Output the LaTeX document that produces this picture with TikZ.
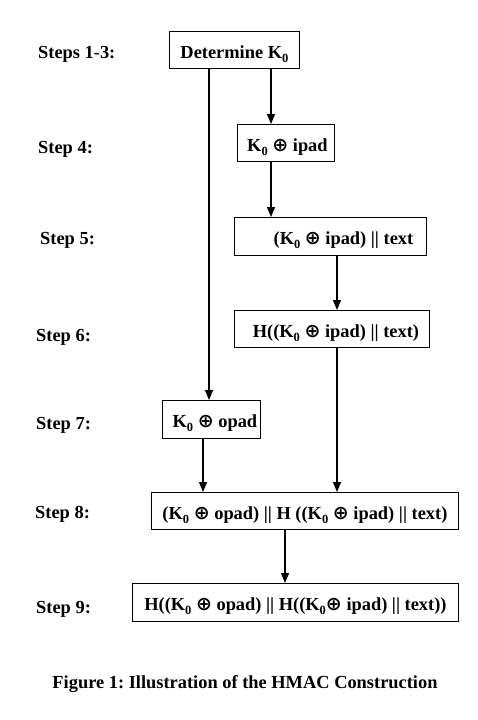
\documentclass[tikz,border=0pt]{standalone}
\usepackage{fontspec}
\setmainfont{Liberation Serif}
\newfontfamily\dvsans{DejaVu Sans}
\usetikzlibrary{arrows.meta}
\frenchspacing
\newcommand{\kz}{K\raisebox{-4pt}{\fontsize{12.5}{12.5}\selectfont 0}}
\newcommand{\xo}{{\dvsans\bfseries\fontsize{19}{19}\selectfont ⊕}}
\begin{document}
\begin{tikzpicture}[x=1pt,y=-1pt,
  every node/.style={font=\fontsize{18.4}{22}\selectfont\bfseries},
  box/.style={draw,line width=0.9pt,inner sep=0pt,anchor=north west,text height=17pt,text depth=0pt},
  steplbl/.style={anchor=base west,inner sep=0pt},
  arr/.style={line width=1.2pt,-{Triangle[length=10pt,width=8pt]}}]
\useasboundingbox (0,0) rectangle (477,720);
\fill[white] (0,0) rectangle (477,720);
% boxes
\node[box,minimum width=130pt,minimum height=37pt] (b13) at (169,31) {Determine \kz};
\node[box,minimum width=97pt,minimum height=37pt] (b4) at (237,124) {\hspace*{3pt}\kz\ \xo\ ipad};
\node[box,minimum width=192pt,minimum height=38pt] (b5) at (234,217) {\hspace*{26pt}(\kz\ \xo\ ipad) || text};
\node[box,minimum width=195pt,minimum height=37pt] (b6) at (234,310) {\hspace*{8pt}H((\kz\ \xo\ ipad) || text)};
\node[box,minimum width=98pt,minimum height=38pt] (b7) at (162,400) {\hspace*{7pt}\kz\ \xo\ opad};
\node[box,minimum width=307pt,minimum height=37pt] (b8) at (151,492) {(\kz\ \xo\ opad) || H ((\kz\ \xo\ ipad) || text)};
\node[box,minimum width=326pt,minimum height=38pt] (b9) at (132,583) {H((\kz\ \xo\ opad) || H((\kz\xo\ ipad) || text))};
% step labels
\node[steplbl] (s13) at (38,58) {Steps 1-3:};
\node[steplbl] (s4) at (38,153) {Step 4:};
\node[steplbl] (s5) at (40,244.5) {Step 5:};
\node[steplbl] (s6) at (36,341.5) {Step 6:};
\node[steplbl] (s7) at (36,429.5) {Step 7:};
\node[steplbl] (s8) at (35,518) {Step 8:};
\node[steplbl] (s9) at (36,613) {Step 9:};
\node[anchor=base,inner sep=0pt] (cap) at (245,688.5) {Figure 1: Illustration of the HMAC Construction};
% connector columns
\coordinate (xa) at (271,0);
\coordinate (xb) at (337,0);
\coordinate (xc) at (209,0);
\coordinate (xd) at (203,0);
\coordinate (xe) at (285,0);
\draw[arr] (b13.south -| xa) -- (b4.north -| xa);
\draw[arr] (b4.south -| xa) -- (b5.north -| xa);
\draw[arr] (b5.south -| xb) -- (b6.north -| xb);
\draw[arr] (b13.south -| xc) -- (b7.north -| xc);
\draw[arr] (b7.south -| xd) -- (b8.north -| xd);
\draw[arr] (b6.south -| xb) -- (b8.north -| xb);
\draw[arr] (b8.south -| xe) -- (b9.north -| xe);
\end{tikzpicture}
\end{document}
